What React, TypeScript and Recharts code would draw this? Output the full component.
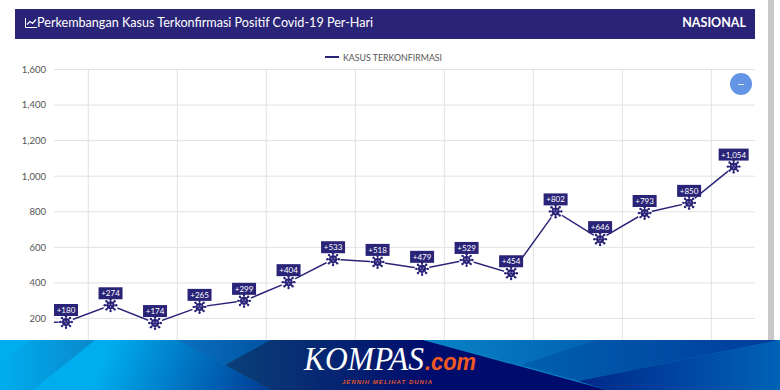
import React from 'react';
import { LineChart, Line, XAxis, YAxis, CartesianGrid, ReferenceLine } from 'recharts';

const NAVY = '#2a2478';
const GRID = '#e2e2e2';
const FONT = 'Lato, "Noto Sans", sans-serif';

// day -1 sits left of the zoom window, only its line stub shows
const days = [-1, 0, 1, 2, 3, 4, 5, 6, 7, 8, 9, 10, 11, 12, 13, 14, 15];
const cases = [175, 180, 274, 174, 265, 299, 404, 533, 518, 479, 529, 454, 802, 646, 793, 850, 1054];
const yTicks = [0, 200, 400, 600, 800, 1000, 1200, 1400, 1600];
const xGridTicks = [0.5, 2.5, 4.5, 6.5, 8.5, 10.5, 12.5, 14.5];
const seriesName = 'KASUS TERKONFIRMASI';

const data = days.map((day, i) => ({ day, cases: cases[i] }));

const VirusDot = (props: any) => {
  const { cx, cy, index } = props;
  if (index === 0 || cx == null) return null;
  const spikes = [0, 45, 90, 135, 180, 225, 270, 315];
  return (
    <g>
      <circle cx={cx} cy={cy} r={7.5} fill="#fff" />
      {spikes.map((a) => {
        const r = (a * Math.PI) / 180;
        const ex = cx + Math.cos(r) * 5.8;
        const ey = cy + Math.sin(r) * 5.8;
        return (
          <g key={a}>
            <line x1={cx} y1={cy} x2={ex} y2={ey} stroke={NAVY} strokeWidth={1.2} />
            <circle cx={ex} cy={ey} r={1.2} fill={NAVY} />
          </g>
        );
      })}
      <circle cx={cx} cy={cy} r={4} fill={NAVY} />
      <circle cx={cx - 1.4} cy={cy - 0.8} r={0.8} fill="#8f8bc4" />
      <circle cx={cx + 1.4} cy={cy - 0.8} r={0.8} fill="#8f8bc4" />
      <circle cx={cx} cy={cy + 1.5} r={0.8} fill="#8f8bc4" />
    </g>
  );
};

const ValueTag = (props: any) => {
  const { x, y, value, index } = props;
  if (index === 0) return null;
  const text = '+' + value.toLocaleString('en-US');
  const w = text.length > 4 ? 30 : 24;
  return (
    <g>
      <rect x={x - w / 2} y={y - 18} width={w} height={12} fill={NAVY} />
      <text x={x} y={y - 9} textAnchor="middle" fontSize={8} fill="#fff" fontFamily={FONT}>
        {text}
      </text>
    </g>
  );
};

const Banner = () => (
  <svg width={780} height={50} style={{ position: 'absolute', left: 0, top: 340, display: 'block' }}>
    <defs>
      <linearGradient id="base" gradientUnits="userSpaceOnUse" x1="0" y1="0" x2="100" y2="0">
        <stop offset="0" stopColor="#00aeef" />
        <stop offset="1" stopColor="#0a86c9" />
      </linearGradient>
      <linearGradient id="bright" gradientUnits="userSpaceOnUse" x1="110" y1="0" x2="265" y2="60">
        <stop offset="0" stopColor="#00aeef" />
        <stop offset="1" stopColor="#003a94" />
      </linearGradient>
      <linearGradient id="upper" gradientUnits="userSpaceOnUse" x1="177" y1="0" x2="270" y2="0">
        <stop offset="0" stopColor="#0a72bf" />
        <stop offset="1" stopColor="#0052a3" />
      </linearGradient>
      <linearGradient id="dark" gradientUnits="userSpaceOnUse" x1="225" y1="0" x2="430" y2="0">
        <stop offset="0" stopColor="#0b4078" />
        <stop offset="1" stopColor="#000c6c" />
      </linearGradient>
      <linearGradient id="mid1" gradientUnits="userSpaceOnUse" x1="423" y1="0" x2="595" y2="0">
        <stop offset="0" stopColor="#0a84c8" />
        <stop offset="1" stopColor="#0062b2" />
      </linearGradient>
      <linearGradient id="mid2" gradientUnits="userSpaceOnUse" x1="520" y1="0" x2="780" y2="0">
        <stop offset="0" stopColor="#0060b0" />
        <stop offset="1" stopColor="#003c9a" />
      </linearGradient>
      <linearGradient id="low" gradientUnits="userSpaceOnUse" x1="578" y1="0" x2="780" y2="0">
        <stop offset="0" stopColor="#00288a" />
        <stop offset="1" stopColor="#0062b6" />
      </linearGradient>
    </defs>
    <rect width={780} height={50} fill="url(#base)" />
    <polygon points="0,22 30,0 0,0" fill="#00aeef" />
    <polygon points="95,0 177,0 225,25 270,50 33,50" fill="url(#bright)" />
    <polygon points="177,0 270,0 225,25" fill="url(#upper)" />
    <polygon points="225,25 270,0 423,0 607,50 270,50" fill="url(#dark)" />
    <polygon points="423,0 595,0 520,25" fill="url(#mid1)" />
    <polygon points="595,0 780,0 578,41 520,25" fill="url(#mid2)" />
    <polygon points="578,41 780,0 780,50 607,50" fill="url(#low)" />
    <text x={304} y={30} fontFamily='"Liberation Serif", serif' fontStyle="italic" fontSize={33} fill="#fff" textLength={120} lengthAdjust="spacingAndGlyphs">
      KOMPAS
    </text>
    <text x={425} y={30} fontFamily='"Liberation Sans", sans-serif' fontStyle="italic" fontWeight={700} fontSize={24} fill="#f05a22" textLength={51} lengthAdjust="spacingAndGlyphs">
      .com
    </text>
    <text x={342} y={44} fontFamily='"Liberation Sans", sans-serif' fontStyle="italic" fontWeight={700} fontSize={6} fill="#e0562a" textLength={90}>
      JERNIH MELIHAT DUNIA
    </text>
  </svg>
);

export default function App() {
  return (
    <div style={{ position: 'fixed', left: 0, top: 0, width: 780, height: 390, overflow: 'hidden', background: '#fff', fontFamily: FONT }}>
      <LineChart
        width={780}
        height={390}
        data={data}
        margin={{ top: 69.5, right: 25, bottom: 36, left: 0 }}
      >
        <CartesianGrid stroke={GRID} vertical={false} />
        {xGridTicks.map((t) => (
          <ReferenceLine key={t} x={t} stroke={GRID} />
        ))}
        <XAxis
          dataKey="day"
          type="number"
          domain={[-0.27, 15.48]}
          allowDataOverflow
          ticks={xGridTicks}
          tick={false}
          axisLine={false}
          tickLine={false}
          height={0}
        />
        <YAxis
          width={54}
          domain={[0, 1600]}
          ticks={yTicks}
          interval={0}
          axisLine={false}
          tickLine={false}
          tick={{ fontSize: 9.5, fill: '#555', fontFamily: FONT }}
          tickFormatter={(v: number) => v.toLocaleString('en-US')}
        />
        <Line
          dataKey="cases"
          name={seriesName}
          stroke={NAVY}
          strokeWidth={1.5}
          isAnimationActive={false}
          dot={<VirusDot />}
          label={<ValueTag />}
        />
      </LineChart>

      {/* header bar */}
      <div style={{ position: 'absolute', left: 15, top: 9, width: 740, height: 30, background: NAVY, color: '#fff' }}>
        <svg width={12} height={10} style={{ position: 'absolute', left: 10, top: 9 }}>
          <path d="M0.5 0V9.5H12" fill="none" stroke="#fff" strokeWidth={1} />
          <path d="M2 6.5L5 3.5L7.5 5.5L11 1.5" fill="none" stroke="#fff" strokeWidth={1.2} />
        </svg>
        <span style={{ position: 'absolute', left: 22, top: 6, fontSize: 12.6, lineHeight: '16px', whiteSpace: 'nowrap' }}>
          Perkembangan Kasus Terkonfirmasi Positif Covid-19 Per-Hari
        </span>
        <span style={{ position: 'absolute', right: 9, top: 6, fontSize: 12.5, lineHeight: '16px', fontWeight: 700 }}>
          NASIONAL
        </span>
      </div>

      {/* legend */}
      <div style={{ position: 'absolute', left: 325, top: 51, height: 12, display: 'flex', alignItems: 'center', whiteSpace: 'nowrap' }}>
        <span style={{ width: 14, height: 1.5, background: NAVY, marginRight: 4 }} />
        <span style={{ fontSize: 8.8, color: '#555' }}>{seriesName}</span>
      </div>

      {/* collapse button */}
      <div style={{ position: 'absolute', left: 730, top: 73, width: 22, height: 22, borderRadius: 11, background: '#6495e5' }}>
        <div style={{ position: 'absolute', left: 8, top: 10.5, width: 6, height: 1, background: '#dfe9fa' }} />
      </div>

      {/* page scrollbar stripe */}
      <div style={{ position: 'absolute', left: 768, top: 0, width: 6, height: 340, background: '#c8c8c8' }} />

      <Banner />
    </div>
  );
}
